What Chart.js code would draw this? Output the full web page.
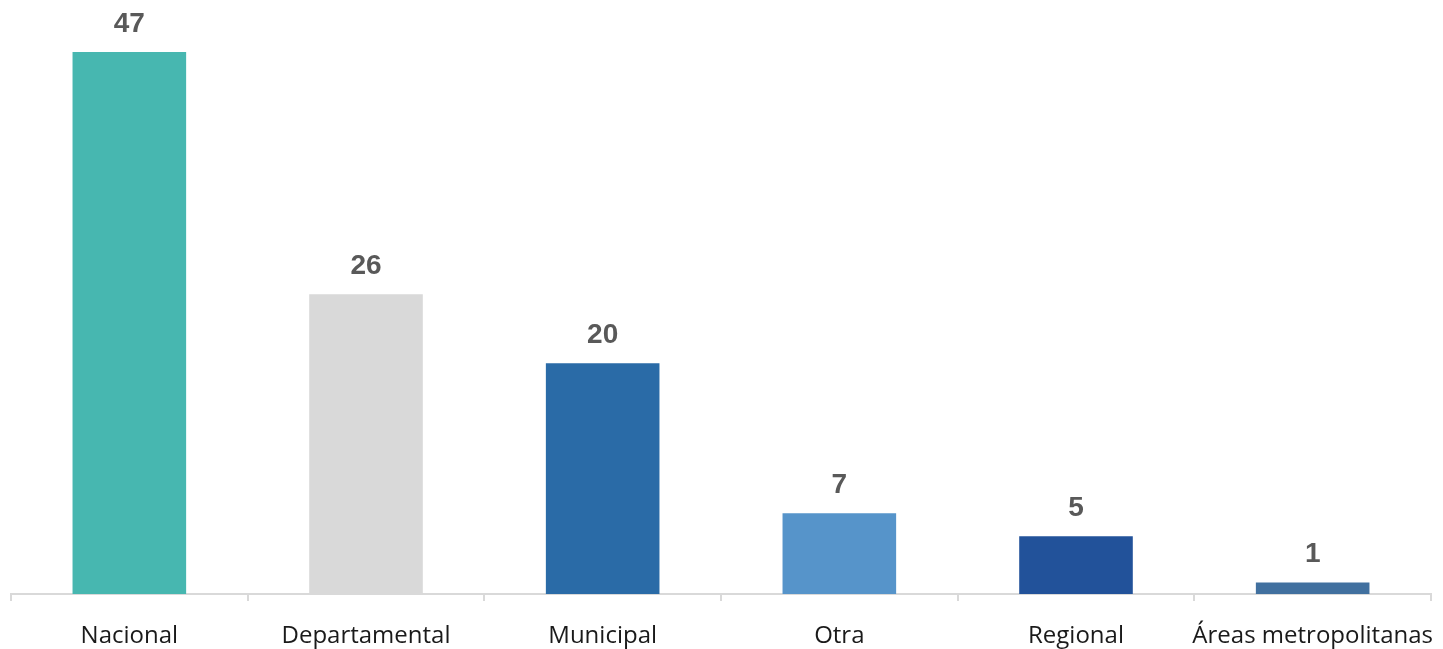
<!DOCTYPE html>
<html lang="es">
<head>
    <meta charset="UTF-8">
    <title>Entidades por nivel</title>
    <script src="https://cdn.jsdelivr.net/npm/chart.js"></script>
    <style>
        html, body { margin: 0; padding: 0; background: #fff; }
        .chart-container { position: relative; width: 1443px; height: 649px; }
    </style>
</head>
<body>
    <div class="chart-container">
        <canvas id="nivelChart"></canvas>
    </div>
    <script>
        // Datos del gráfico
        const categorias = ['Nacional', 'Departamental', 'Municipal', 'Otra', 'Regional', 'Áreas metropolitanas'];
        const valores = [47, 26, 20, 7, 5, 1];
        const colores = ['#47B7B0', '#D9D9D9', '#2A6BA7', '#5694CA', '#22529A', '#41709F'];

        // Etiquetas de valor sobre cada barra
        const etiquetasValor = {
            id: 'etiquetasValor',
            afterDatasetsDraw(chart) {
                const ctx = chart.ctx;
                const meta = chart.getDatasetMeta(0);
                ctx.save();
                ctx.font = 'bold 28px "Liberation Sans", Arial, sans-serif';
                ctx.fillStyle = '#595959';
                ctx.textAlign = 'center';
                ctx.textBaseline = 'alphabetic';
                meta.data.forEach((bar, i) => {
                    ctx.fillText(valores[i], bar.x, bar.y - 20);
                });
                ctx.restore();
            }
        };

        const ctx = document.getElementById('nivelChart').getContext('2d');
        new Chart(ctx, {
            type: 'bar',
            data: {
                labels: categorias,
                datasets: [{
                    data: valores,
                    backgroundColor: colores,
                    barPercentage: 0.48,
                    categoryPercentage: 1
                }]
            },
            options: {
                responsive: true,
                maintainAspectRatio: false,
                animation: false,
                layout: {
                    padding: { top: 52, left: 11, right: 12, bottom: 0 }
                },
                plugins: {
                    legend: { display: false },
                    tooltip: { enabled: false }
                },
                scales: {
                    x: {
                        afterFit(scale) {
                            // altura fija del eje y sin recortar el área por las etiquetas largas
                            scale.height = 55;
                            scale.paddingLeft = 0;
                            scale.paddingRight = 0;
                        },
                        grid: {
                            display: true,
                            drawOnChartArea: false,
                            tickLength: 7,
                            color: '#D9D9D9',
                            lineWidth: 2
                        },
                        border: { display: true, color: '#D9D9D9', width: 2 },
                        ticks: {
                            color: '#1a1a1a',
                            font: { family: '"Open Sans", "Noto Sans", sans-serif', size: 24 },
                            padding: 21,
                            maxRotation: 0,
                            autoSkip: false
                        }
                    },
                    y: {
                        display: false,
                        min: 0,
                        max: 47
                    }
                }
            },
            plugins: [etiquetasValor]
        });
    </script>
</body>
</html>
